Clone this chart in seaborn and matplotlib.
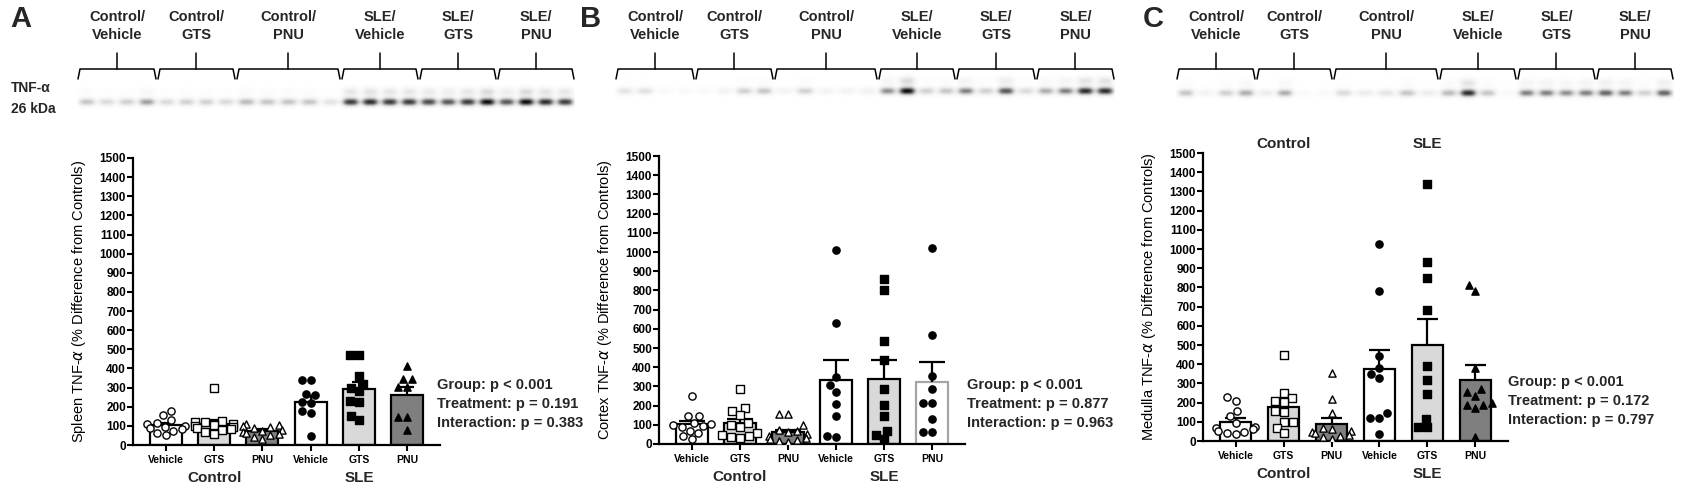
import numpy as np
import pandas as pd
import seaborn as sns
import matplotlib.pyplot as plt

sns.set_theme(style="ticks")
plt.rcParams['font.family'] = ['Liberation Sans', 'DejaVu Sans']
plt.rcParams['mathtext.fontset'] = 'dejavusans'

W, H = 1687, 492

# ---------------- data ----------------
conds = ["Control/Vehicle", "Control/GTS", "Control/PNU", "SLE/Vehicle", "SLE/GTS", "SLE/PNU"]
treatments = ["Vehicle", "GTS", "PNU", "Vehicle", "GTS", "PNU"]
blot_labels = ["Control/\nVehicle", "Control/\nGTS", "Control/\nPNU", "SLE/\nVehicle", "SLE/\nGTS", "SLE/\nPNU"]

spleen_ctl_veh = [180, 155, 130, 115, 110, 100, 95, 90, 85, 75, 65, 50]
spleen_ctl_gts = [300, 125, 120, 118, 112, 105, 100, 95, 90, 85, 80, 70, 60]
spleen_ctl_pnu = [110, 105, 100, 95, 90, 80, 75, 70, 65, 60, 50, 40, 30]
spleen_sle_veh = [340, 340, 265, 260, 225, 220, 180, 165, 45]
spleen_sle_gts = [470, 470, 360, 320, 300, 280, 230, 225, 150, 130]
spleen_sle_pnu = [415, 345, 345, 305, 305, 148, 148, 80]

cortex_ctl_veh = [248, 148, 145, 110, 105, 100, 95, 90, 70, 55, 40, 25]
cortex_ctl_gts = [285, 185, 170, 150, 110, 100, 90, 55, 45, 40, 35, 30]
cortex_ctl_pnu = [155, 155, 100, 75, 70, 60, 50, 40, 30, 25, 20, 15, 10]
cortex_sle_veh = [1012, 631, 350, 307, 272, 206, 147, 43, 35]
cortex_sle_gts = [858, 800, 539, 440, 284, 203, 144, 69, 47, 26]
cortex_sle_pnu = [1021, 570, 355, 288, 215, 215, 128, 64, 64]

medulla_ctl_veh = [228, 209, 158, 130, 95, 75, 70, 65, 50, 45, 40, 35]
medulla_ctl_gts = [448, 250, 225, 210, 205, 155, 150, 100, 100, 70, 40]
medulla_ctl_pnu = [353, 217, 148, 70, 60, 50, 45, 40, 30, 25, 20, 10]
medulla_sle_veh = [1027, 779, 443, 379, 350, 330, 144, 118, 118, 37]
medulla_sle_gts = [1338, 932, 847, 683, 393, 320, 247, 115, 71, 71]
medulla_sle_pnu = [813, 780, 379, 271, 255, 235, 200, 190, 185, 170, 20]

stats_spleen = ["Group: p < 0.001", "Treatment: p = 0.191", "Interaction: p = 0.383"]
stats_cortex = ["Group: p < 0.001", "Treatment: p = 0.877", "Interaction: p = 0.963"]
stats_medulla = ["Group: p < 0.001", "Treatment: p = 0.172", "Interaction: p = 0.797"]

# western blot band intensities per lane (0 = none, 1 = darkest)
bands_spleen = [[0.35, 0.25, 0.3, 0.5], [0.25, 0.3, 0.3, 0.25], [0.4, 0.35, 0.35, 0.35, 0.2],
                [0.85, 0.9, 0.85, 0.85], [0.8, 0.75, 0.85, 1.0], [0.75, 1.0, 0.9, 0.85]]
bands_cortex = [[0.2, 0.22, 0.05, 0.05], [0.05, 0.1, 0.3, 0.35], [0.1, 0.3, 0.1, 0.1, 0.12],
                [0.55, 1.0, 0.3, 0.35], [0.6, 0.3, 0.75, 0.25], [0.45, 0.6, 0.9, 0.9]]
bands_medulla = [[0.35, 0.1, 0.3, 0.45], [0.15, 0.45, 0.05, 0.05], [0.25, 0.15, 0.2, 0.35, 0.15],
                 [0.4, 0.9, 0.35, 0.05], [0.6, 0.6, 0.55, 0.6], [0.7, 0.6, 0.3, 0.7]]

# ---------------- layout ----------------
markers_std = ["o", "s", "^", "o", "s", "^"]
markers_b = ["o", "s", "^", "o", "s", "o"]
faces = ["white", "white", "white", "black", "black", "black"]
fills_std = ["white", "#d9d9d9", "#7f7f7f", "white", "#d9d9d9", "#7f7f7f"]
fills_b = ["white", "#d9d9d9", "#7f7f7f", "white", "#d9d9d9", "white"]
edges_std = ["black"] * 6
edges_b = ["black"] * 5 + ["#a6a6a6"]

panels = [
    dict(letter="A", tissue="Spleen", data=[spleen_ctl_veh, spleen_ctl_gts, spleen_ctl_pnu,
                                             spleen_sle_veh, spleen_sle_gts, spleen_sle_pnu],
         stats=stats_spleen, box=(133, 158, 440, 445), cap=0.14, fills=fills_std, edges=edges_std,
         markers=markers_std,
         bands=bands_spleen, bedges=[77, 157, 236, 341, 419, 497, 575], band_y=106,
         letter_x=10, stats_xy=(437, 385), top_groups=False),
    dict(letter="B", tissue="Cortex", data=[cortex_ctl_veh, cortex_ctl_gts, cortex_ctl_pnu,
                                             cortex_sle_veh, cortex_sle_gts, cortex_sle_pnu],
         stats=stats_cortex, box=(659, 156, 965, 444), cap=0.27, fills=fills_b, edges=edges_b,
         markers=markers_b,
         bands=bands_cortex, bedges=[615, 695, 774, 878, 956, 1036, 1115], band_y=95,
         letter_x=580, stats_xy=(967, 385), top_groups=False),
    dict(letter="C", tissue="Medulla", data=[medulla_ctl_veh, medulla_ctl_gts, medulla_ctl_pnu,
                                              medulla_sle_veh, medulla_sle_gts, medulla_sle_pnu],
         stats=stats_medulla, box=(1203, 153, 1508, 441), cap=0.22, fills=fills_std, edges=edges_std,
         markers=markers_std,
         bands=bands_medulla, bedges=[1176, 1256, 1333, 1439, 1517, 1596, 1674], band_y=97,
         letter_x=1143, stats_xy=(1508, 382), top_groups=True),
]

fig = plt.figure(figsize=(W / 100, H / 100), dpi=100)
fig.patch.set_facecolor("white")

# overlay axes in pixel coordinates for blots, brackets and text
ov = fig.add_axes([0, 0, 1, 1])
ov.axis("off")


def blot_image(edges, bands, y0, y1):
    xs = np.arange(edges[0], edges[-1]) + 0.5
    ys = np.arange(y0, y1) + 0.5
    yc = (y0 + y1) / 2
    img = np.zeros((len(ys), len(xs)))
    for g, lane_vals in enumerate(bands):
        lw = (edges[g + 1] - edges[g]) / len(lane_vals)
        for k, v in enumerate(lane_vals):
            cx = edges[g] + (k + 0.5) * lw
            px = np.exp(-(np.abs(xs - cx) / (lw * 0.42)) ** 3)
            py = np.exp(-((ys - yc) / 3.8) ** 2) + 0.25 * v * np.exp(-((ys - yc + 10) / 4.5) ** 2)
            img += v * np.outer(py, px)
    return np.clip(img, 0, 1)


for p in panels:
    # blot
    by = p["band_y"]
    img = blot_image(p["bedges"], p["bands"], by - 24, by + 16)
    ov.imshow(img, extent=(p["bedges"][0], p["bedges"][-1], by + 16, by - 24),
              cmap="Greys", vmin=0, vmax=1.05, aspect="auto", interpolation="bilinear")
    # brackets and lane group labels
    for g in range(6):
        x0, x1 = p["bedges"][g], p["bedges"][g + 1]
        xm = (x0 + x1) / 2
        ov.plot([x0 + 1, x0 + 3, x1 - 3, x1 - 1], [79, 69, 69, 79], color="black", lw=1.1,
                solid_joinstyle="round")
        ov.plot([xm, xm], [69, 53], color="black", lw=1.1)
        ov.text(xm, 26, blot_labels[g], ha="center", va="center", fontsize=10.5,
                fontweight="bold", linespacing=1.3)
    ov.text(p["letter_x"], 19, p["letter"], ha="left", va="center", fontsize=21, fontweight="bold")
    sx, sy = p["stats_xy"]
    for j, line in enumerate(p["stats"]):
        ov.text(sx, sy + 19 * j, line, ha="left", va="center", fontsize=10.5, fontweight="bold")

ov.text(11, 88, "TNF-α", ha="left", va="center", fontsize=10, fontweight="bold")
ov.text(11, 109, "26 kDa", ha="left", va="center", fontsize=10, fontweight="bold")
ov.set_xlim(0, W)
ov.set_ylim(H, 0)

for p in panels:
    left, top, right, bottom = p["box"]
    ax = fig.add_axes([left / W, 1 - bottom / H, (right - left) / W, (bottom - top) / H])
    ax.patch.set_alpha(0)

    rows = []
    for c, vals in zip(conds, p["data"]):
        for v in vals:
            rows.append({"cond": c, "value": v})
    df = pd.DataFrame(rows)

    sns.barplot(data=df, x="cond", y="value", order=conds, hue="cond", hue_order=conds,
                palette=dict(zip(conds, p["fills"])), errorbar=None, width=0.66,
                edgecolor="black", linewidth=1.6, legend=False, ax=ax, zorder=1)
    for patch, ec in zip(ax.patches, p["edges"]):
        patch.set_edgecolor(ec)

    # mean + SEM (upper side only)
    summ = df.groupby("cond", sort=False)["value"].agg(["mean", "sem"]).reindex(conds)
    xs = np.arange(len(conds))
    ax.vlines(xs, summ["mean"], summ["mean"] + summ["sem"], color="black", lw=1.6, zorder=2)
    ax.hlines(summ["mean"] + summ["sem"], xs - p["cap"], xs + p["cap"], color="black", lw=1.6, zorder=2)

    for i, c in enumerate(conds):
        sub = df[df["cond"] == c]
        sns.swarmplot(data=sub, x="cond", y="value", order=conds, ax=ax, marker=p["markers"][i],
                      color=faces[i], edgecolor="black", linewidth=1.0, size=5.2,
                      warn_thresh=1, zorder=3)

    ax.set_xlim(-0.68, 5.68)
    ax.set_ylim(0, 1500)
    ax.set_yticks(range(0, 1501, 100))
    ax.set_xticks(xs)
    ax.set_xticklabels(treatments, fontsize=7.5, fontweight="bold")
    for t in ax.get_yticklabels():
        t.set_fontsize(8.5)
        t.set_fontweight("bold")
    ax.tick_params(axis="both", direction="out", length=4, width=1.5, color="black", labelcolor="black")
    ax.tick_params(axis="y", pad=1)
    ax.tick_params(axis="x", pad=3)
    for s in ["left", "bottom"]:
        ax.spines[s].set_linewidth(1.6)
        ax.spines[s].set_color("black")
    sns.despine(ax=ax)
    ax.set_xlabel("")
    ax.set_ylabel(p["tissue"] + " TNF-$\\alpha$ (% Difference from Controls)", fontsize=10.5, color="black")
    ax.yaxis.set_label_coords(-45 / (right - left), 0.5)

    tr = ax.get_xaxis_transform()
    ax.text(1, -0.115, "Control", transform=tr, ha="center", va="center", fontsize=11, fontweight="bold")
    ax.text(4, -0.115, "SLE", transform=tr, ha="center", va="center", fontsize=11, fontweight="bold")
    if p["top_groups"]:
        ax.text(1, 1.031, "Control", transform=tr, ha="center", va="center", fontsize=11, fontweight="bold")
        ax.text(4, 1.031, "SLE", transform=tr, ha="center", va="center", fontsize=11, fontweight="bold")

fig.savefig("out.png", dpi=100, facecolor="white")
